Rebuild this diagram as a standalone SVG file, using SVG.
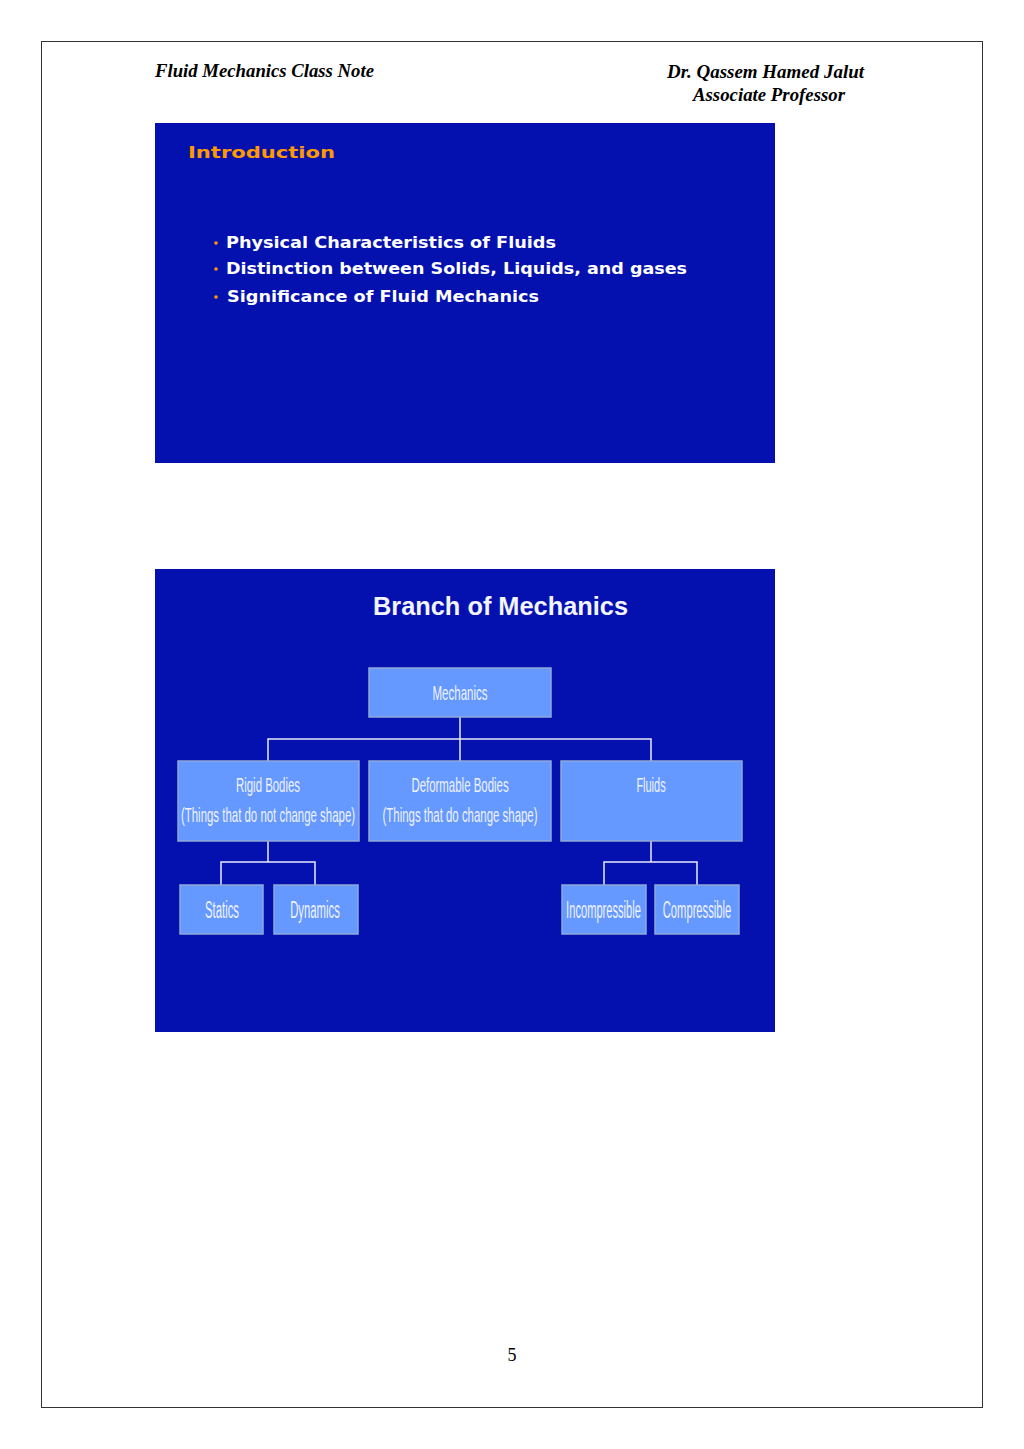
<svg xmlns="http://www.w3.org/2000/svg" width="1024" height="1449" viewBox="0 0 1024 1449">
<style>
.hdr{font-family:"Liberation Serif",serif;font-style:italic;font-weight:bold;font-size:19px;fill:#000}
.slide{fill:#0511AF}
.box{fill:#6699FF;stroke:#8FA8D8;stroke-width:1.5}
.bt{font-family:"Liberation Sans Narrow","Liberation Sans",sans-serif;font-size:21px;fill:#EEF2FF;text-anchor:middle}
.bs{font-size:23px}
.bul{font-family:"DejaVu Sans",sans-serif;font-weight:bold;font-size:15px;fill:#fff}
.dot{fill:#FF9900}
.conn{stroke:#E6EAF8;stroke-width:1.5;fill:none}
</style>
<rect width="1024" height="1449" fill="#fff"/>
<rect x="41.5" y="41.5" width="941" height="1366" fill="none" stroke="#333" stroke-width="1"/>
<text class="hdr" x="155" y="77" textLength="219" lengthAdjust="spacingAndGlyphs">Fluid Mechanics Class Note</text>
<text class="hdr" x="667" y="78" textLength="197" lengthAdjust="spacingAndGlyphs">Dr. Qassem Hamed Jalut</text>
<text class="hdr" x="693" y="101" textLength="152" lengthAdjust="spacingAndGlyphs">Associate Professor</text>

<g id="slide1">
<rect class="slide" x="155" y="123" width="620" height="340"/>
<text x="188" y="158" font-family="DejaVu Sans,sans-serif" font-weight="bold" font-size="16" fill="#FF9900" textLength="147" lengthAdjust="spacingAndGlyphs">Introduction</text>
<circle class="dot" cx="216" cy="243" r="1.8"/>
<text class="bul" x="226" y="248" textLength="330" lengthAdjust="spacingAndGlyphs">Physical Characteristics  of Fluids</text>
<circle class="dot" cx="216" cy="269" r="1.8"/>
<text class="bul" x="226" y="274" textLength="461" lengthAdjust="spacingAndGlyphs">Distinction between Solids, Liquids, and gases</text>
<circle class="dot" cx="216" cy="297" r="1.8"/>
<text class="bul" x="227" y="302" textLength="312" lengthAdjust="spacingAndGlyphs">Significance  of Fluid Mechanics</text>
</g>

<g id="slide2">
<rect class="slide" x="155" y="569" width="620" height="463"/>
<text x="373" y="615" font-family="Liberation Sans,sans-serif" font-weight="bold" font-size="26" fill="#F2F4FF" textLength="255" lengthAdjust="spacingAndGlyphs">Branch of Mechanics</text>
</g>

<g id="connectors">
<path class="conn" d="M460 717V761M268 761V739H651V761"/>
<path class="conn" d="M268 841V862M221 885V862H315V885"/>
<path class="conn" d="M651 841V862M604 885V862H697V885"/>
</g>

<g id="mechanics"><rect class="box" x="369" y="668" width="182" height="49"/><text class="bt" transform="translate(460 700) scale(0.68 1)" textLength="81" lengthAdjust="spacingAndGlyphs">Mechanics</text></g>
<g id="rigid"><rect class="box" x="178" y="761" width="181" height="80"/><text class="bt" transform="translate(268 792) scale(0.68 1)" textLength="94" lengthAdjust="spacingAndGlyphs">Rigid Bodies</text><text class="bt" transform="translate(268 822) scale(0.68 1)" textLength="256" lengthAdjust="spacingAndGlyphs">(Things that do not change shape)</text></g>
<g id="deformable"><rect class="box" x="369" y="761" width="182" height="80"/><text class="bt" transform="translate(460 792) scale(0.68 1)" textLength="143" lengthAdjust="spacingAndGlyphs">Deformable Bodies</text><text class="bt" transform="translate(460 822) scale(0.68 1)" textLength="228" lengthAdjust="spacingAndGlyphs">(Things that do change shape)</text></g>
<g id="fluids"><rect class="box" x="561" y="761" width="181" height="80"/><text class="bt" transform="translate(651 792) scale(0.68 1)" textLength="43" lengthAdjust="spacingAndGlyphs">Fluids</text></g>
<g id="statics"><rect class="box" x="180" y="885" width="83" height="49"/><text class="bt bs" transform="translate(222 918) scale(0.68 1)" textLength="50" lengthAdjust="spacingAndGlyphs">Statics</text></g>
<g id="dynamics"><rect class="box" x="274" y="885" width="84" height="49"/><text class="bt bs" transform="translate(315 918) scale(0.68 1)" textLength="73" lengthAdjust="spacingAndGlyphs">Dynamics</text></g>
<g id="incompressible"><rect class="box" x="562" y="885" width="84" height="49"/><text class="bt bs" transform="translate(603.5 918) scale(0.68 1)" textLength="110" lengthAdjust="spacingAndGlyphs">Incompressible</text></g>
<g id="compressible"><rect class="box" x="655" y="885" width="84" height="49"/><text class="bt bs" transform="translate(697 918) scale(0.68 1)" textLength="101" lengthAdjust="spacingAndGlyphs">Compressible</text></g>

<text x="512" y="1361" font-family="Liberation Serif,serif" font-size="18" text-anchor="middle" fill="#000">5</text>
</svg>
